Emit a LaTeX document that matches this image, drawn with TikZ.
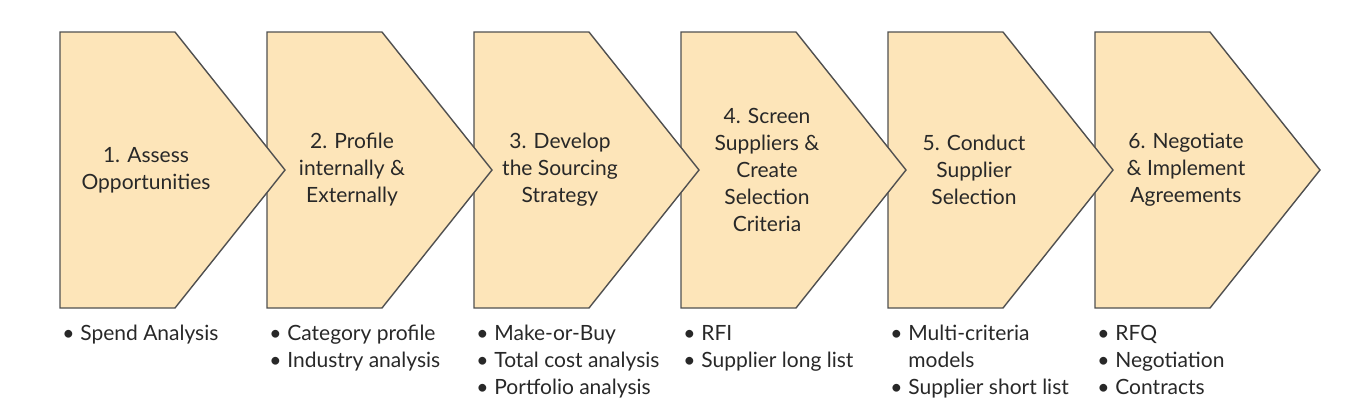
\documentclass[tikz,border=0pt]{standalone}
\usepackage{fontspec}
\setmainfont{Lato}
\usepackage{xcolor}
\usetikzlibrary{positioning}
\definecolor{stagefill}{RGB}{253,229,185}
\definecolor{stageline}{RGB}{80,80,80}
\definecolor{textgray}{RGB}{40,40,40}
\tikzset{
  stage/.style={
    draw=stageline,
    fill=stagefill,
    line width=0.7pt,
    line join=miter
  },
  stage label/.style={
    align=center,
    inner sep=0pt,
    text=textgray,
    font=\fontsize{10.5}{13.5}\selectfont
  },
  point list/.style={
    align=left,
    anchor=north west,
    inner sep=0pt,
    text=textgray,
    font=\fontsize{10.5}{13.5}\selectfont
  }
}
\newcommand{\itm}{\strut\makebox[9pt][l]{\textbullet}}
\newcommand{\cnt}{\strut\makebox[9pt][l]{}}

\begin{document}
\begin{tikzpicture}[x=0.5pt,y=-0.5pt]
  \useasboundingbox (0,0) rectangle (1346,408);

  % Stage arrows, drawn right to left so each tip lies on the next one
  \foreach \i in {5,4,3,2,1,0} {
    \pgfmathsetmacro{\L}{60+207*\i}
    \draw[stage] (\L,32) -- ({\L+115},32) -- ({\L+225},170)
      -- ({\L+115},308) -- (\L,308) -- cycle;
  }

  % Stage titles
  \node[stage label] (lbl1) at (146,170) {1. Assess\\Opportunities};
  \node[stage label] (lbl2) at (352,170) {2. Profile\\internally \&\\Externally};
  \node[stage label] (lbl3) at (560,170) {3. Develop\\the Sourcing\\Strategy};
  \node[stage label] (lbl4) at (767,170) {4. Screen\\Suppliers \&\\Create\\Selection\\Criteria};
  \node[stage label] (lbl5) at (974,170) {5. Conduct\\Supplier\\Selection};
  \node[stage label] (lbl6) at (1186,170) {6. Negotiate\\\& Implement\\Agreements};

  % Key activities under each stage
  \node[point list] (pts1) at (62,321) {\itm Spend Analysis};
  \node[point list] (pts2) at (269,321) {\itm Category profile\\\itm Industry analysis};
  \node[point list] (pts3) at (476,321) {\itm Make-or-Buy\\\itm Total cost analysis\\\itm Portfolio analysis};
  \node[point list] (pts4) at (683,321) {\itm RFI\\\itm Supplier long list};
  \node[point list] (pts5) at (890,321) {\itm Multi-criteria\\\cnt models\\\itm Supplier short list};
  \node[point list] (pts6) at (1097,321) {\itm RFQ\\\itm Negotiation\\\itm Contracts};
\end{tikzpicture}
\end{document}
